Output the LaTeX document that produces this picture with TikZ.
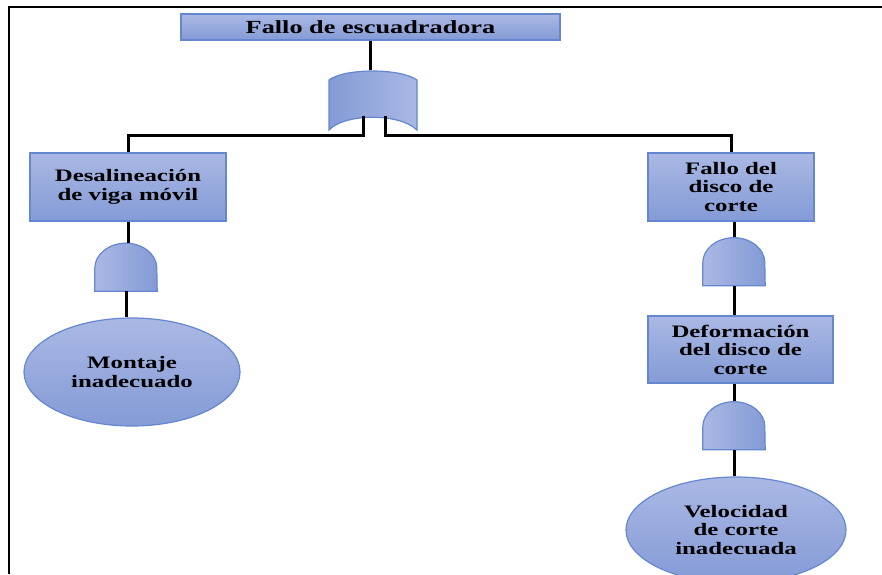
\documentclass[tikz,border=0pt]{standalone}
\usepackage{fontspec}
\setmainfont[FakeStretch=1.42]{Liberation Serif}
\usetikzlibrary{shapes.geometric}
\definecolor{fillLight}{RGB}{170,184,228}
\definecolor{fillDark}{RGB}{132,155,214}
\definecolor{edgeblue}{RGB}{100,135,208}

\begin{document}
\begin{tikzpicture}[x=1pt,y=-1pt,
  evtext/.style={align=center, text=black,
    font=\fontsize{17.5}{18.5}\selectfont\bfseries},
  eventbox/.style={evtext, draw=edgeblue, line width=1.2pt,
    top color=fillLight, bottom color=fillDark, inner sep=2pt},
  basicevent/.style={evtext, ellipse, draw=edgeblue, line width=1.2pt,
    top color=fillLight, bottom color=fillDark, inner sep=0pt},
  gatebox/.style={draw=none, inner sep=0pt, minimum width=62pt, minimum height=48pt},
  andshade/.style={draw=edgeblue, line width=1.2pt, left color=fillLight, right color=fillDark},
  orshade/.style={draw=edgeblue, line width=1.2pt, left color=fillDark, right color=fillLight},
  link/.style={draw=black, line width=3pt},
  frame/.style={draw=black, line width=2.6pt}
]
\useasboundingbox (0,0) rectangle (882,574);
\clip (0,0) rectangle (882,574);

% page frame (top and left rules)
\draw[frame] (9,574) -- (9,7) -- (882,7);

% top event
\node[eventbox, minimum width=379pt, minimum height=26pt,
  font=\fontsize{18.5}{19}\selectfont\bfseries] (top) at (370.5,27) {Fallo de escuadradora};

% intermediate events
\node[eventbox, minimum width=196pt, minimum height=68pt] (desal) at (128,187)
  {Desalineación\\de viga móvil};
\node[eventbox, minimum width=166pt, minimum height=68pt] (disco) at (731,187)
  {Fallo del\\disco de\\corte};
\node[eventbox, minimum width=185pt, minimum height=67pt] (deform) at (740.5,349.5)
  {Deformación\\del disco de\\corte};

% basic events
\node[basicevent, minimum width=216pt, minimum height=108pt] (montaje) at (132,372)
  {Montaje\\inadecuado};
\node[basicevent, minimum width=220pt, minimum height=106pt] (veloc) at (736,530)
  {Velocidad\\de corte\\inadecuada};

% OR gate under the top event
\node[draw=none, inner sep=0pt, minimum width=88pt, minimum height=60pt] (orgate) at (373,100) {};
\shadedraw[orshade] (329,80) .. controls (345,68) and (400,68) .. (417,80)
  -- (417,130) .. controls (400,113) and (345,113) .. (329,130) -- cycle;
\coordinate (orL) at (363,116);
\coordinate (orR) at (385,116);
\coordinate (bus) at (0,135);

% AND gates
\node[gatebox] (and1) at (126,267) {};
\node[gatebox] (and2) at (734,261.5) {};
\node[gatebox] (and3) at (734,425.5) {};
\foreach \g in {and1,and2,and3}{
  \shadedraw[andshade] (\g.south west) -- ++(0pt,23pt)
    arc[start angle=180, end angle=0, x radius=31pt, y radius=25pt]
    -- (\g.south east) -- cycle;
}

% connectors
\draw[link] (top.south) -- (top.south |- orgate.north);
\draw[link] (orL) -- (orL |- bus) -| (desal.north);
\draw[link] (orR) -- (orR |- bus) -| (disco.north);
\draw[link] (desal.south) -- (desal.south |- and1.north);
\draw[link] (and1.south) -- (and1.south |- montaje.north);
\draw[link] (disco.south -| and2.north) -- (and2.north);
\draw[link] (and2.south) -- (and2.south |- deform.north);
\draw[link] (deform.south -| and3.north) -- (and3.north);
\draw[link] (and3.south) -- (and3.south |- veloc.north);
\end{tikzpicture}
\end{document}
